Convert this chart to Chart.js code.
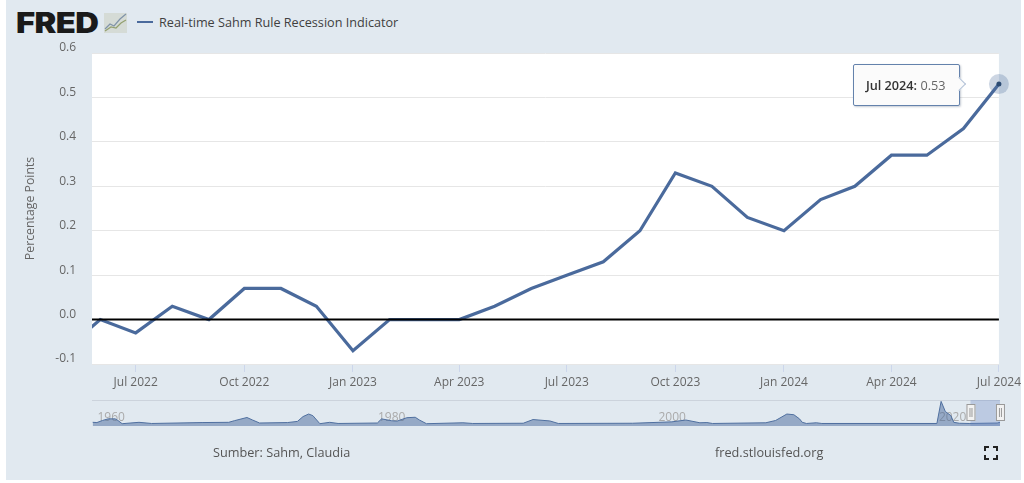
<!DOCTYPE html>
<html>
<head>
<meta charset="utf-8">
<title>Real-time Sahm Rule Recession Indicator</title>
<script src="https://cdn.jsdelivr.net/npm/chart.js@4"></script>
<style>
    body { margin: 0; background: #fff; overflow: hidden; font-family: "Open Sans", sans-serif; }
    #panel { position: absolute; left: 6px; top: 0; width: 1015px; height: 480px; background: #e1e9f0; }
    canvas { position: absolute; left: 0; }
    #mainChart { top: 0; }
    #navChart { top: 395px; }
    .abs { position: absolute; white-space: nowrap; }
    #logo { left: 16px; top: 4px; font: 900 28px/38px Inter, sans-serif; color: #1a1a1a; letter-spacing: -0.5px; transform-origin: left center; transform: scaleX(1.17); }
    #legendLine { left: 137px; top: 21px; width: 16px; height: 2px; background: #4a6a9c; }
    #legendText { left: 159px; top: 12px; font-size: 12.65px; line-height: 20px; color: #404040; }
    .foot { top: 442px; font-size: 12.7px; line-height: 20px; color: #555; }
    #tip { width: 105px; height: 40px; background: #fbfbfb; border: 1px solid #6482ac; box-shadow: 1px 1px 2px rgba(60,80,110,.3); border-radius: 2px; font-size: 12.7px; line-height: 40px; color: #666; text-indent: 12px; }
    #tip b { font-weight: 600; color: #333; }
    #tipCaret { width: 9px; height: 9px; background: #fbfbfb; border-top: 1px solid #b4c3d8; border-right: 1px solid #b4c3d8; transform: rotate(45deg); }
</style>
</head>
<body>
<div id="panel"></div>
<div id="logo" class="abs">FRED</div>
<svg class="abs" style="left:104px;top:12px" width="24" height="22">
    <rect x="0" y="1" width="23" height="20" fill="#d5dbd6"/>
    <polyline points="1,17 6,12 10,14 16,7 22,2" fill="none" stroke="#7f93a8" stroke-width="1.2"/>
    <polyline points="1,19 7,15 12,16 17,11 22,8" fill="none" stroke="#93a06f" stroke-width="1.2"/>
</svg>
<div id="legendLine" class="abs"></div>
<div id="legendText" class="abs">Real-time Sahm Rule Recession Indicator</div>
<canvas id="mainChart" width="1024" height="483"></canvas>
<canvas id="navChart" width="1024" height="35"></canvas>
<div id="tip" class="abs"></div>
<div id="tipCaret" class="abs"></div>
<div class="abs foot" style="left:213px">Sumber: Sahm, Claudia</div>
<div class="abs foot" style="left:715px">fred.stlouisfed.org</div>
<svg class="abs" style="left:984px;top:446px" width="14" height="14" fill="none" stroke="#222" stroke-width="2">
    <path d="M1 5V1H5M9 1H13V5M13 9V13H9M5 13H1V9"/>
</svg>
<script>
// Monthly values
const months = ['2022-05', '2022-06', '2022-07', '2022-08', '2022-09', '2022-10', '2022-11', '2022-12',
    '2023-01', '2023-02', '2023-03', '2023-04', '2023-05', '2023-06', '2023-07', '2023-08', '2023-09',
    '2023-10', '2023-11', '2023-12', '2024-01', '2024-02', '2024-03', '2024-04', '2024-05', '2024-06', '2024-07'];
const sahmValues = [-0.07, 0, -0.03, 0.03, 0, 0.07, 0.07, 0.03,
    -0.07, 0, 0, 0, 0.03, 0.07, 0.1, 0.13, 0.2,
    0.33, 0.3, 0.23, 0.2, 0.27, 0.3, 0.37, 0.37, 0.43, 0.53];

const xTickMonths = ['2022-07', '2022-10', '2023-01', '2023-04', '2023-07', '2023-10', '2024-01', '2024-04', '2024-07'];
const xTickLabels = ['Jul 2022', 'Oct 2022', 'Jan 2023', 'Apr 2023', 'Jul 2023', 'Oct 2023', 'Jan 2024', 'Apr 2024', 'Jul 2024'];
const tipDate = 'Jul 2024:';

// Navigator overview, full history
const navYears = [1959.8, 1960.1, 1960.5, 1960.9, 1961.4, 1961.6, 1961.9, 1963.1, 1964, 1967.6, 1969.5, 1969.9, 1970.8, 1971.2, 1971.7,
    1973.7, 1974.4, 1974.8, 1975.2, 1975.5, 1976, 1976.7, 1977.3, 1980.1, 1980.4, 1981.1, 1981.5, 1982.2, 1982.8, 1983.1,
    1983.6, 1986.2, 1986.9, 1990.5, 1991.2, 1992.4, 1993, 1998.3, 2001.1, 2002.1, 2003.1, 2003.6, 2004, 2007.8,
    2008.5, 2009.3, 2009.8, 2010.2, 2010.4, 2010.7, 2011.4, 2011.8, 2020, 2020.3, 2020.6, 2021, 2021.2, 2021.6, 2022.3, 2024.3, 2024.5];
const navValues = [0.5, 0.4, 1.3, 2, 2, 1.3, -0.1, 0.5, 0, 0.4, 0.5, 1.2, 2.6, 1.5, 0.2,
    0.4, 0.9, 3, 4.1, 3.4, -0.1, 0.5, 0, 0.2, 2, 1.2, 1, 2.5, 2.7, 1.5,
    -0.1, 0.3, 0, 0.1, 1.7, 1.1, 0, 0.1, 0.7, 1.5, 0.3, 0.4, 0, 0.3,
    1.3, 4.1, 3.8, 2, 0.5, 0, 0.3, 0, 0, 9.6, 5.2, 3.4, 0.5, 0.1, 0, 0.2, 0.5];
const navTickYears = [1960, 1980, 2000, 2020];

const toTime = (m) => {
    const [y, mo] = m.split('-').map(Number);
    return Date.UTC(y, mo - 1, 1);
};
const xMin = Date.UTC(2022, 4, 25);
const xMax = toTime('2024-07');
const lastX = toTime(months[months.length - 1]);
const lastY = sahmValues[sahmValues.length - 1];
const toYear = (t) => 1970 + t / (365.25 * 864e5);

const blue = '#4a6a9c';
const labelFont = { family: '"Open Sans", sans-serif', size: 12 };

const plotBackground = {
    id: 'plotBackground',
    beforeDraw(chart) {
        const a = chart.chartArea;
        chart.ctx.fillStyle = '#fff';
        chart.ctx.fillRect(a.left, a.top, a.width, a.height);
    }
};

const mainChart = new Chart(document.getElementById('mainChart').getContext('2d'), {
    type: 'line',
    data: {
        datasets: [{
            label: 'Real-time Sahm Rule Recession Indicator',
            data: months.map((m, i) => ({ x: toTime(m), y: sahmValues[i] })),
            borderColor: blue,
            borderWidth: 3.2,
            pointRadius: 0,
            tension: 0,
            clip: 0,
            order: 3
        }, {
            label: 'zero',
            data: [{ x: xMin, y: 0 }, { x: xMax, y: 0 }],
            borderColor: '#000',
            borderWidth: 2,
            pointRadius: 0,
            order: 2
        }, {
            label: 'halo',
            data: [{ x: lastX, y: lastY }],
            pointRadius: 10,
            pointBorderWidth: 0,
            pointBackgroundColor: 'rgba(74,106,156,0.28)',
            clip: false,
            order: 1
        }, {
            label: 'dot',
            data: [{ x: lastX, y: lastY }],
            pointRadius: 2.5,
            pointBorderWidth: 0,
            pointBackgroundColor: '#2b4a72',
            clip: false,
            order: 0
        }]
    },
    options: {
        responsive: false,
        animation: false,
        events: [],
        layout: { padding: { top: 53, right: 24, left: 0, bottom: 0 } },
        plugins: { legend: { display: false }, tooltip: { enabled: false } },
        scales: {
            x: {
                type: 'linear',
                min: xMin,
                max: xMax,
                afterFit(axis) { axis.height = 119; },
                afterBuildTicks(axis) { axis.ticks = xTickMonths.map((m) => ({ value: toTime(m) })); },
                grid: { drawOnChartArea: false, drawTicks: true, tickLength: 8, tickColor: '#ccd6eb' },
                border: { display: false },
                ticks: {
                    autoSkip: false,
                    maxRotation: 0,
                    padding: 3,
                    color: '#666',
                    font: labelFont,
                    callback: (v) => xTickLabels[xTickMonths.findIndex((m) => toTime(m) === v)]
                }
            },
            y: {
                min: -0.1,
                max: 0.6,
                afterFit(axis) { axis.width = 92; },
                grid: { color: '#e6e6e6', drawTicks: false },
                border: { display: false },
                title: { display: true, text: 'Percentage Points', color: '#666', font: { family: labelFont.family, size: 12.3 }, padding: { top: 23, bottom: 0 } },
                ticks: {
                    stepSize: 0.1,
                    padding: 16,
                    labelOffset: -5,
                    color: '#666',
                    font: labelFont,
                    callback: (v) => (Math.abs(v) < 1e-9 ? 0 : v).toFixed(1)
                }
            }
        }
    },
    plugins: [plotBackground]
});

// tooltip box hangs off the last point
const tipX = mainChart.scales.x.getPixelForValue(lastX);
const tipY = mainChart.scales.y.getPixelForValue(lastY);
const tip = document.getElementById('tip');
tip.innerHTML = '<b>' + tipDate + '</b> ' + lastY.toFixed(2);
tip.style.left = (tipX - 146) + 'px';
tip.style.top = (tipY - 20) + 'px';
const caret = document.getElementById('tipCaret');
caret.style.left = (tipX - 44.5) + 'px';
caret.style.top = (tipY - 5) + 'px';

const navExtras = {
    id: 'navExtras',
    beforeDatasetsDraw(chart) {
        const { ctx, scales } = chart;
        ctx.save();
        ctx.font = '12px "Open Sans", sans-serif';
        ctx.fillStyle = '#aaa';
        ctx.textBaseline = 'middle';
        navTickYears.forEach((y) => ctx.fillText(String(y), scales.x.getPixelForValue(y) + 2, 23));
        ctx.restore();
    },
    afterDatasetsDraw(chart) {
        const { ctx, scales, chartArea } = chart;
        const x0 = scales.x.getPixelForValue(toYear(xMin));
        const x1 = scales.x.getPixelForValue(toYear(xMax));
        ctx.save();
        ctx.strokeStyle = '#ccd3dc';
        ctx.beginPath();
        ctx.moveTo(chartArea.left, chartArea.top + 0.5);
        ctx.lineTo(chartArea.right, chartArea.top + 0.5);
        ctx.stroke();
        ctx.fillStyle = 'rgba(102,133,194,0.3)';
        ctx.fillRect(x0, chartArea.top, x1 - x0, chartArea.height);
        [x0, x1].forEach((x) => {
            ctx.fillStyle = '#f2f2f2';
            ctx.strokeStyle = '#999';
            ctx.fillRect(x - 4, 9, 9, 17);
            ctx.strokeRect(x - 4 + 0.5, 9.5, 8, 16);
            ctx.beginPath();
            ctx.moveTo(x - 0.5, 13); ctx.lineTo(x - 0.5, 22);
            ctx.moveTo(x + 1.5, 13); ctx.lineTo(x + 1.5, 22);
            ctx.stroke();
        });
        ctx.restore();
    }
};

new Chart(document.getElementById('navChart').getContext('2d'), {
    type: 'line',
    data: {
        datasets: [{
            label: 'navigator',
            data: navYears.map((y, i) => ({ x: y, y: navValues[i] })),
            borderColor: '#4f6f9f',
            borderWidth: 1,
            backgroundColor: 'rgba(74,106,156,0.5)',
            fill: 'start',
            pointRadius: 0,
            tension: 0
        }]
    },
    options: {
        responsive: false,
        animation: false,
        events: [],
        layout: { padding: { top: 5, right: 24, left: 92, bottom: 4 } },
        plugins: { legend: { display: false }, tooltip: { enabled: false } },
        scales: {
            x: { type: 'linear', min: 1959.75, max: 2024.5, display: false },
            y: { min: -1.1, max: 10.2, display: false }
        }
    },
    plugins: [navExtras]
});
</script>
</body>
</html>
